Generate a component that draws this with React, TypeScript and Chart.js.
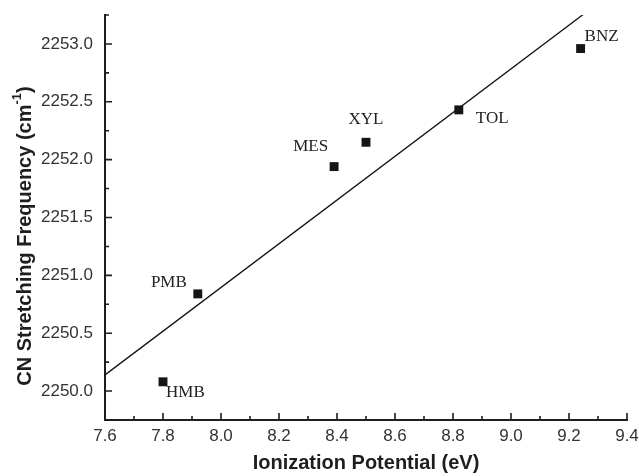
import React, { useEffect, useRef } from 'react';
import { Chart, registerables } from 'chart.js';

Chart.register(...registerables);

// ---- data ----
const compounds = ['HMB', 'PMB', 'MES', 'XYL', 'TOL', 'BNZ'];
const ionizationPotential = [7.8, 7.92, 8.39, 8.5, 8.82, 9.24];
const cnFrequency = [2250.08, 2250.84, 2251.94, 2252.15, 2252.43, 2252.96];
const fitX = [7.6, 9.4];
const fitY = [2250.14, 2253.54];
const xTickValues = [7.6, 7.8, 8.0, 8.2, 8.4, 8.6, 8.8, 9.0, 9.2, 9.4];
const yTickValues = [2250.0, 2250.5, 2251.0, 2251.5, 2252.0, 2252.5, 2253.0];
const xRange = [7.6, 9.4];
const yRange = [2249.75, 2253.25];
const xTitle = 'Ionization Potential (eV)';
const yTitleMain = 'CN Stretching Frequency (cm';
const yTitleSup = '-1';
const yTitleEnd = ')';

// ---- style (label placement relative to marker) ----
const labelPlacement: Record<string, { dx: number; dy: number; align: CanvasTextAlign }> = {
  HMB: { dx: 3, dy: 11, align: 'left' },
  PMB: { dx: -11, dy: -11, align: 'right' },
  MES: { dx: -6, dy: -20, align: 'right' },
  XYL: { dx: 0, dy: -23, align: 'center' },
  TOL: { dx: 17, dy: 9, align: 'left' },
  BNZ: { dx: 4, dy: -12, align: 'left' },
};

const INK = '#1e1e1e';
const SANS = '"Liberation Sans", Arial, sans-serif';
const SERIF = '"Liberation Serif", "Times New Roman", serif';

const innerTicks = {
  id: 'innerTicks',
  afterDraw(chart: any) {
    const { ctx, chartArea, scales } = chart;
    const xs = scales.x;
    const ys = scales.y;
    ctx.save();
    ctx.strokeStyle = INK;
    ctx.lineWidth = 1.6;
    ctx.beginPath();
    const majorLen = 7;
    const minorLen = 4;
    xTickValues.forEach((v, i) => {
      const px = xs.getPixelForValue(v);
      ctx.moveTo(px, chartArea.bottom);
      ctx.lineTo(px, chartArea.bottom - majorLen);
      if (i < xTickValues.length - 1) {
        const m = xs.getPixelForValue((v + xTickValues[i + 1]) / 2);
        ctx.moveTo(m, chartArea.bottom);
        ctx.lineTo(m, chartArea.bottom - minorLen);
      }
    });
    yTickValues.forEach((v, i) => {
      const py = ys.getPixelForValue(v);
      ctx.moveTo(chartArea.left, py);
      ctx.lineTo(chartArea.left + majorLen, py);
      const step = i < yTickValues.length - 1 ? yTickValues[i + 1] - v : v - yTickValues[i - 1];
      const below = ys.getPixelForValue(v - step / 2);
      ctx.moveTo(chartArea.left, below);
      ctx.lineTo(chartArea.left + minorLen, below);
      if (i === yTickValues.length - 1) {
        const above = ys.getPixelForValue(v + step / 2);
        ctx.moveTo(chartArea.left, above);
        ctx.lineTo(chartArea.left + minorLen, above);
      }
    });
    ctx.stroke();

    // point labels
    ctx.fillStyle = '#222';
    ctx.font = `17px ${SERIF}`;
    ctx.textBaseline = 'middle';
    const meta = chart.getDatasetMeta(0);
    meta.data.forEach((pt: any, i: number) => {
      const name = compounds[i];
      const p = labelPlacement[name];
      ctx.textAlign = p.align;
      ctx.fillText(name, pt.x + p.dx, pt.y + p.dy);
    });

    // y-axis title with superscript
    ctx.fillStyle = INK;
    ctx.translate(25, 236);
    ctx.rotate(-Math.PI / 2);
    const mainFont = `bold 20px ${SANS}`;
    const supFont = `bold 13px ${SANS}`;
    ctx.font = mainFont;
    const w1 = ctx.measureText(yTitleMain).width;
    const w3 = ctx.measureText(yTitleEnd).width;
    ctx.font = supFont;
    const w2 = ctx.measureText(yTitleSup).width;
    let x0 = -(w1 + w2 + w3) / 2;
    ctx.textAlign = 'left';
    ctx.textBaseline = 'middle';
    ctx.font = mainFont;
    ctx.fillText(yTitleMain, x0, 0);
    x0 += w1;
    ctx.font = supFont;
    ctx.fillText(yTitleSup, x0, -8);
    x0 += w2;
    ctx.font = mainFont;
    ctx.fillText(yTitleEnd, x0, 0);
    ctx.restore();
  },
};

export default function App() {
  const ref = useRef<HTMLCanvasElement | null>(null);
  useEffect(() => {
    document.body.style.margin = '0';
    const canvas = ref.current!;
    const chart = new Chart(canvas, {
      type: 'scatter',
      data: {
        datasets: [
          {
            label: 'data',
            data: ionizationPotential.map((x, i) => ({ x, y: cnFrequency[i] })),
            pointStyle: 'rect',
            pointRadius: 6.3,
            pointHoverRadius: 6.3,
            backgroundColor: '#151515',
            borderColor: '#151515',
            borderWidth: 0,
            showLine: false,
          },
          {
            label: 'fit',
            data: fitX.map((x, i) => ({ x, y: fitY[i] })),
            showLine: true,
            pointRadius: 0,
            borderColor: '#111',
            borderWidth: 1.3,
            backgroundColor: '#111',
            clip: 0,
          } as any,
        ],
      },
      options: {
        responsive: false,
        animation: false,
        devicePixelRatio: 1,
        layout: { padding: { top: 15, right: 12, left: 0, bottom: 0 } },
        plugins: {
          legend: { display: false },
          tooltip: { enabled: false },
        },
        scales: {
          x: {
            type: 'linear',
            min: xRange[0],
            max: xRange[1],
            afterBuildTicks: (s: any) => {
              s.ticks = xTickValues.map((v) => ({ value: v }));
            },
            afterFit: (s: any) => {
              s.height = 56;
              s.paddingLeft = 0;
              s.paddingRight = 0;
            },
            grid: { display: false, drawTicks: false },
            border: { display: true, color: INK, width: 2 },
            ticks: {
              padding: 6,
              color: '#333',
              font: { family: SANS, size: 17 },
              callback: (v: any) => Number(v).toFixed(1),
              maxRotation: 0,
              autoSkip: false,
            },
            title: {
              display: true,
              text: xTitle,
              color: INK,
              font: { family: SANS, size: 20, weight: 'bold' },
              padding: { top: 0, bottom: 1 },
            },
          },
          y: {
            type: 'linear',
            min: yRange[0],
            max: yRange[1],
            afterBuildTicks: (s: any) => {
              s.ticks = yTickValues.map((v) => ({ value: v }));
            },
            afterFit: (s: any) => {
              s.width = 105;
              s.paddingTop = 0;
              s.paddingBottom = 0;
            },
            grid: { display: false, drawTicks: false },
            border: { display: true, color: INK, width: 2 },
            ticks: {
              padding: 12,
              color: '#333',
              font: { family: SANS, size: 17 },
              callback: (v: any) => Number(v).toFixed(1),
              autoSkip: false,
            },
            title: { display: false },
          },
        },
      },
      plugins: [innerTicks],
    });
    return () => chart.destroy();
  }, []);
  return (
    <div style={{ position: 'absolute', left: 0, top: 0, width: 639, height: 476 }}>
      <canvas ref={ref} width={639} height={476} style={{ display: 'block' }} />
    </div>
  );
}
